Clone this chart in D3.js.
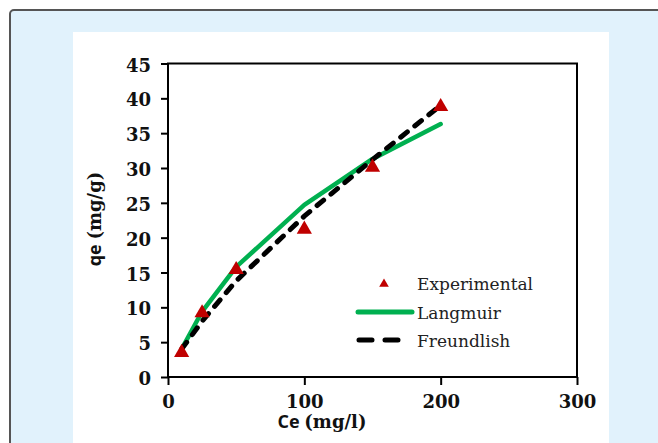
<!DOCTYPE html>
<html><head><meta charset="utf-8">
<script src="https://cdn.jsdelivr.net/npm/d3@7/dist/d3.min.js"></script>
<style>body{margin:0;background:#fff;}svg{display:block;}</style>
</head><body>
<script>
const ce = [10, 25, 50, 100, 150, 200];
const experimental = [3.5, 9.2, 15.4, 21.2, 30.1, 38.8];
const langmuir = [4.0, 9.4, 15.8, 24.7, 31.3, 36.3];
const freundlish = [4.0, 8.0, 13.8, 23.1, 31.2, 39.0];
const xTicks = [0, 100, 200, 300];
const yTicks = [0, 5, 10, 15, 20, 25, 30, 35, 40, 45];
const legendLabels = ["Experimental", "Langmuir", "Freundlish"];

const W = 658, H = 443;
const svg = d3.select("body").append("svg").attr("width", W).attr("height", H);

// panel background
svg.append("rect").attr("x", 10).attr("y", 10).attr("width", W + 20).attr("height", H + 20)
  .attr("rx", 4).attr("fill", "#e1f2fc").attr("stroke", "#555").attr("stroke-width", 2);
svg.append("rect").attr("x", 73).attr("y", 32).attr("width", 536).attr("height", H)
  .attr("fill", "#fff");

const x = d3.scaleLinear().domain([0, 300]).range([168, 577]);
const y = d3.scaleLinear().domain([0, 45]).range([377, 63.5]);

const serif = "'DejaVu Serif', serif";

// frame
svg.append("rect").attr("x", x(0)).attr("y", y(45)).attr("width", x(300) - x(0))
  .attr("height", y(0) - y(45)).attr("fill", "none").attr("stroke", "#000").attr("stroke-width", 2);

const yAxis = svg.append("g").attr("transform", `translate(${x(0)},0)`)
  .call(d3.axisLeft(y).tickValues(yTicks).tickSize(7).tickPadding(10).tickFormat(d3.format("d")));
const xAxis = svg.append("g").attr("transform", `translate(0,${y(0)})`)
  .call(d3.axisBottom(x).tickValues(xTicks).tickSize(8).tickPadding(10).tickFormat(d3.format("d")));
[yAxis, xAxis].forEach(a => {
  a.select(".domain").remove();
  a.selectAll(".tick line").attr("stroke", "#000").attr("stroke-width", 2);
  a.selectAll(".tick text").attr("fill", "#111").style("font-family", serif)
    .style("font-weight", "bold").style("font-size", "18px");
});
yAxis.selectAll(".tick text").attr("dy", "0.42em");
xAxis.selectAll(".tick text").attr("dy", "0.72em");

// lines
const pts = arr => ce.map((c, i) => [x(c), y(arr[i])]);
const line = d3.line();
svg.append("path").attr("d", line(pts(langmuir))).attr("fill", "none")
  .attr("stroke", "#00b050").attr("stroke-width", 4.5).attr("stroke-linecap", "round").attr("stroke-linejoin", "round");
svg.append("path").attr("d", line(pts(freundlish))).attr("fill", "none")
  .attr("stroke", "#000").attr("stroke-width", 5).attr("stroke-linecap", "round")
  .attr("stroke-dasharray", "8.5,9.5");

// triangles
const tri = d3.symbol().type(d3.symbolTriangle).size(100);
svg.selectAll(".pt").data(ce).enter().append("path")
  .attr("d", tri).attr("fill", "#c00000")
  .attr("transform", (d, i) => `translate(${x(d)},${y(experimental[i])})`);

// axis titles
const xt = svg.append("text").attr("x", 322).attr("y", 428).attr("text-anchor", "middle")
  .style("font-size", "18px").style("font-weight", "bold").attr("fill", "#111");
xt.append("tspan").style("font-family", "'Open Sans', sans-serif").text("Ce ");
xt.append("tspan").style("font-family", serif).text("(mg/l)");
const yt = svg.append("text").attr("transform", "translate(101,219) rotate(-90)").attr("text-anchor", "middle")
  .style("font-size", "18px").style("font-weight", "bold").attr("fill", "#111");
yt.append("tspan").style("font-family", "'Open Sans', sans-serif").text("qe ");
yt.append("tspan").style("font-family", serif).text("(mg/g)");

// legend
const lg = svg.append("g");
lg.append("path").attr("d", d3.symbol().type(d3.symbolTriangle).size(40)).attr("fill", "#c00000")
  .attr("transform", "translate(384,284)");
lg.append("line").attr("x1", 358).attr("x2", 412).attr("y1", 312).attr("y2", 312)
  .attr("stroke", "#00b050").attr("stroke-width", 5).attr("stroke-linecap", "round");
lg.append("line").attr("x1", 359).attr("x2", 401).attr("y1", 340).attr("y2", 340)
  .attr("stroke", "#000").attr("stroke-width", 5).attr("stroke-linecap", "round")
  .attr("stroke-dasharray", "13,13");
lg.selectAll(".lt").data(legendLabels).enter().append("text")
  .attr("x", 417).attr("y", (d, i) => 284 + i * 28.5).attr("dy", "0.36em")
  .style("font-family", serif).style("font-size", "17px").attr("fill", "#222").text(d => d);
</script>
</body></html>
